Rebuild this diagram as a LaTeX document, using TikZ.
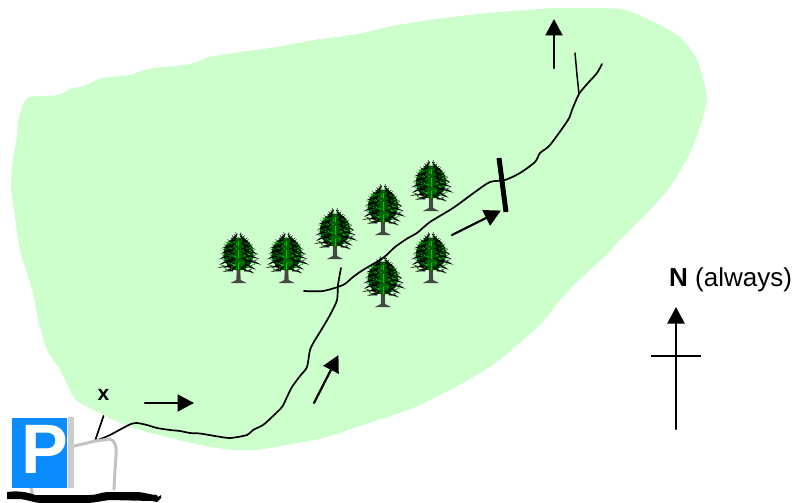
\documentclass[tikz,border=0pt]{standalone}
\usepackage{fontspec}
\setmainfont{Liberation Sans}
\usetikzlibrary{arrows.meta}
\definecolor{meadow}{HTML}{CCFFCC}
\definecolor{signblue}{HTML}{0A8CFF}
\definecolor{leafdark}{HTML}{006000}
\definecolor{leafbright}{HTML}{00C800}
\tikzset{
  trail/.style={line width=1.7pt,line cap=round,line join=round},
  dirarrow/.style={line width=2.2pt,line cap=round,-{Triangle[length=16.5pt,width=17pt]},shorten >=-1pt},
  greyroad/.style={draw=black!24,line width=3pt,line cap=round,line join=round},
  treepic/.pic={
    \pgfmathsetseed{4711}
    \fill[black!72] (-1.7,-14) -- (1.7,-14) -- (2.2,-3) -- (8,0) -- (-8,0) -- (-2.2,-3) -- cycle;
    \fill[leafdark] (0,-29) ellipse (15 and 16.5);
    \foreach \yy/\w in {-12/15,-16/20,-21/21,-26/20,-31/19,-36/17,-41/13,-45/7}{
      \foreach \s in {-1,1}{
        \foreach \f in {1,.72,.45}{
          \pgfmathsetmacro\ln{\w*\f*(.88+.24*rnd)}
          \pgfmathsetmacro\dy{.4+2.4*rnd}
          \pgfmathsetmacro\by{\yy+(\f-1)*6}
          \fill[black] (\s*\ln*.35,\by-1) -- (\s*\ln*.75,\by-.5) -- (\s*\ln,\by+\dy) -- (\s*\ln*.6,\by+.4) -- (\s*\ln*.35,\by+.5) -- cycle;
          \draw[black,line width=.4pt] (\s*\ln*.6,\by-.5) -- (\s*\ln*.85,\by-2.4);
        }
      }
    }
    \foreach \k in {1,...,26}{
      \pgfmathsetmacro\fx{-12+24*rnd}
      \pgfmathsetmacro\fy{-42+27*rnd}
      \pgfmathsetmacro\gx{\fx+1+2*rnd}
      \pgfmathsetmacro\gy{\fy+1.4*rnd}
      \draw[leafbright,line width=.8pt] (\fx,\fy) -- (\gx,\gy);
    }
    \draw[leafbright,line width=.6pt] (0,-13) -- (0,-20) (0,-24) -- (0,-33) (0,-37) -- (0,-42);
    \fill[leafbright] (16,-19) circle (.9) (-13,-12.5) circle (.6);
  }
}
\begin{document}
\begin{tikzpicture}[x=1pt,y=-1pt]
\useasboundingbox (0,0) rectangle (793,503);
% meadow
\fill[meadow] plot[smooth cycle,tension=.4] coordinates {
 (30,97) (58,95) (72,88) (80,87) (90,83) (102,78) (130,75) (148,69) (190,64) (210,57) (247,51) (277,47)
 (313,40) (337,37) (363,33) (387,27) (423,21) (460,16) (500,12)
 (560,8) (620,9) (650,20) (680,37) (697,60) (707,97) (700,127) (688,157) (670,187) (650,210) (630,230)
 (603,258) (577,282) (560,300) (540,325) (517,345) (497,362) (463,383) (413,408) (363,425)
 (323,438) (263,449) (235,450) (200,445) (133,428) (100,413) (76,400) (66,382) (59,368) (47,350)
 (38,320) (33,293) (20,250) (15,217) (11,187) (13,160) (17,137) (18,122) (23,104)};
% trees
\foreach \tx/\ty/\tn in {238.5/283/a,286.5/283/b,335/259/c,383/235/d,431/211/e,383/307/f,431/283/g}
  \pic (tree\tn) at (\tx,\ty) {treepic};
% trails
\coordinate (parkend) at (95,441);
\coordinate (fork) at (579,94);
\draw[trail] plot[smooth,tension=.45] coordinates {(95,441) (103,438) (110,435) (123,428) (131,424) (137,423) (147,425) (157,428) (170,430) (180,431) (190,433) (200,433.5) (215,436) (230,438) (247,435)
  (253,430) (263,425) (272,417) (282,407) (287,397) (292,387) (300,376) (307,367)
  (310,350) (315,340) (320,332) (330,315) (337,300) (338,285) (341,268)};
\draw[trail] plot[smooth,tension=.45] coordinates {(304,291) (323,291) (343,285) (353,277) (363,270) (383,258) (395,247) (408,238) (417,233)
  (430,222) (453,208) (475,192) (490,182) (505,180) (520,173) (535,162)
  (540,153) (550,145) (568,120) (572,110) (579,94) (588,83) (597,73) (602,64)};
\draw[trail,line width=1.5pt] (fork) -- (577,75) -- (575,53);
% gate
\coordinate (gatetop) at (499,158);
\coordinate (gatebot) at (506,212);
\draw[line width=5pt] (gatetop) -- (gatebot);
% direction arrows
\coordinate (a1s) at (145,403); \coordinate (a1e) at (193,403);
\coordinate (a2s) at (314,403); \coordinate (a2e) at (338,356);
\coordinate (a3s) at (452,235); \coordinate (a3e) at (500,211);
\coordinate (a4s) at (554,68);  \coordinate (a4e) at (554,20);
\draw[dirarrow] (a1s) -- (a1e);
\draw[dirarrow] (a2s) -- (a2e);
\draw[dirarrow] (a3s) -- (a3e);
\draw[dirarrow] (a4s) -- (a4e);
% north mark
\coordinate (ns) at (676,429); \coordinate (ne) at (676,308);
\coordinate (cl) at (651,355.5); \coordinate (cr) at (701,355.5);
\draw[dirarrow] (ns) -- (ne);
\draw[line width=2pt] (cl) -- (cr);
\node[anchor=base west,inner sep=0pt,font=\fontsize{26}{28}\selectfont] (north) at (669,286) {\textbf{N} (always)};
% x mark
\node[anchor=base,inner sep=0pt,font=\fontsize{21}{22}\selectfont\bfseries] (xmark) at (103.5,400) {x};
\coordinate (xtick) at (103.5,416);
\draw[trail] (xtick) -- (parkend);
% road and parking
\coordinate (signside) at (74,446);
\coordinate (roadjoin) at (114,489);
\draw[greyroad] (signside) -- (85,443.5) -- (parkend) -- (110,439) .. controls (116,441) and (116.5,448) .. (116,456) -- (115,470) -- (roadjoin);
\draw[greyroad] (31,488) -- (33,497);
\fill[black,line join=round] (7,492) .. controls (15,491) and (25,491) .. (35,495) -- (90,495)
  .. controls (98,495) and (100,492) .. (110,492) -- (135,492) .. controls (145,492) and (150,495) .. (157,495)
  -- (158,497) -- (161,495) -- (161,498) -- (157,502) -- (152,501) -- (110,500) .. controls (100,501) and (95,503) .. (85,503)
  -- (40,503) .. controls (32,502) and (28,500) .. (20,499) -- (7,499) -- cycle;
\fill[black!20] (68,417) rectangle (74,488);
\fill[signblue] (11.5,417.5) rectangle (67,488);
\node[anchor=base,inner sep=0pt,text=white,font=\fontsize{70}{72}\selectfont\bfseries] (psign) at (44.5,473) {P};
\end{tikzpicture}
\end{document}
